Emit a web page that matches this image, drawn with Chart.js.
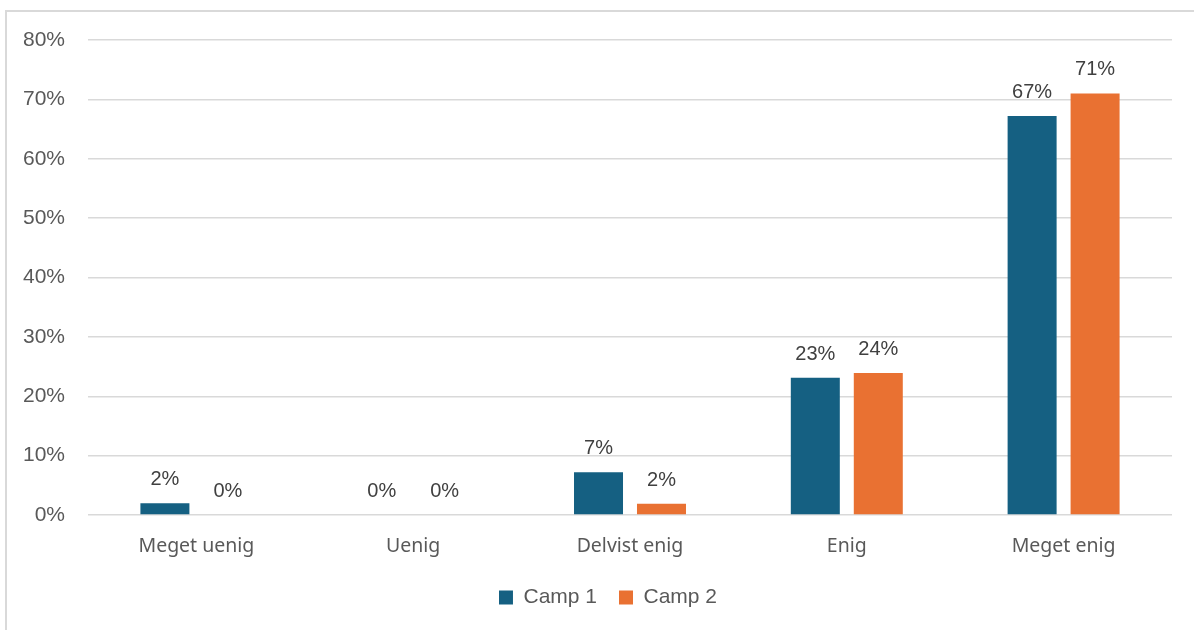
<!DOCTYPE html>
<html>
<head>
<meta charset="utf-8">
<script src="https://cdn.jsdelivr.net/npm/chart.js@4.4.1/dist/chart.umd.min.js"></script>
<style>
    html, body { margin: 0; padding: 0; background: #fff; overflow: hidden; }
    #frame { position: absolute; left: 5px; top: 10px; width: 1300px; height: 700px; border: 2px solid #d9d9d9; box-sizing: border-box; }
    #wrap { position: absolute; left: 0; top: 0; width: 1194px; height: 630px; }
</style>
</head>
<body>
<div id="frame"></div>
<div id="wrap"><canvas id="grafico"></canvas></div>
<script>
// Datos
const categorias = ['Meget uenig', 'Uenig', 'Delvist enig', 'Enig', 'Meget enig'];
const camp1 = [2.0, 0, 7.2, 23.1, 67.2];
const camp2 = [0, 0, 1.9, 23.9, 71.0];
const ticksY = [0, 10, 20, 30, 40, 50, 60, 70, 80];

const colorCamp1 = '#156082';
const colorCamp2 = '#E97132';

// Etiquetas de valor encima de cada barra
const etiquetasPlugin = {
    id: 'etiquetas',
    afterLayout(chart) {
        // la leyenda del original está algo desplazada a la derecha
        chart.legend.left = 44;
    },
    afterDatasetsDraw(chart) {
        const ctx = chart.ctx;
        ctx.save();
        ctx.font = '20px "Liberation Sans", Arial, sans-serif';
        ctx.fillStyle = '#404040';
        ctx.textAlign = 'center';
        ctx.textBaseline = 'alphabetic';
        chart.data.datasets.forEach((ds, i) => {
            chart.getDatasetMeta(i).data.forEach((bar, j) => {
                ctx.fillText(Math.round(ds.data[j]) + '%', bar.x, bar.y - 18);
            });
        });
        ctx.restore();
    }
};

new Chart(document.getElementById('grafico'), {
    type: 'bar',
    data: {
        labels: categorias,
        datasets: [{
            label: 'Camp 1',
            data: camp1,
            backgroundColor: colorCamp1,
            categoryPercentage: 0.581,
            barPercentage: 0.778
        }, {
            label: 'Camp 2',
            data: camp2,
            backgroundColor: colorCamp2,
            categoryPercentage: 0.581,
            barPercentage: 0.778
        }]
    },
    options: {
        responsive: true,
        maintainAspectRatio: false,
        animation: false,
        layout: {
            padding: { top: 40, right: 22, bottom: 12, left: 0 }
        },
        plugins: {
            legend: {
                display: true,
                position: 'bottom',
                labels: {
                    boxWidth: 14,
                    boxHeight: 14,
                    color: '#595959',
                    font: { size: 21, family: '"Liberation Sans", Arial, sans-serif' },
                    padding: 22
                }
            },
            tooltip: { enabled: false }
        },
        scales: {
            x: {
                grid: { display: false },
                border: { display: false },
                ticks: {
                    color: '#595959',
                    font: { size: 19.5, family: '"Noto Sans", sans-serif' },
                    padding: 12
                },
                afterFit: s => { s.height = 50; }
            },
            y: {
                min: 0,
                max: 80,
                afterBuildTicks: s => { s.ticks = ticksY.map(v => ({ value: v })); },
                grid: { color: '#d9d9d9', lineWidth: 1.5, drawTicks: false },
                border: { display: false },
                ticks: {
                    color: '#595959',
                    font: { size: 21, family: '"Liberation Sans", Arial, sans-serif' },
                    padding: 23,
                    callback: v => v + '%'
                },
                afterFit: s => { s.width = 88; }
            }
        }
    },
    plugins: [etiquetasPlugin]
});
</script>
</body>
</html>
